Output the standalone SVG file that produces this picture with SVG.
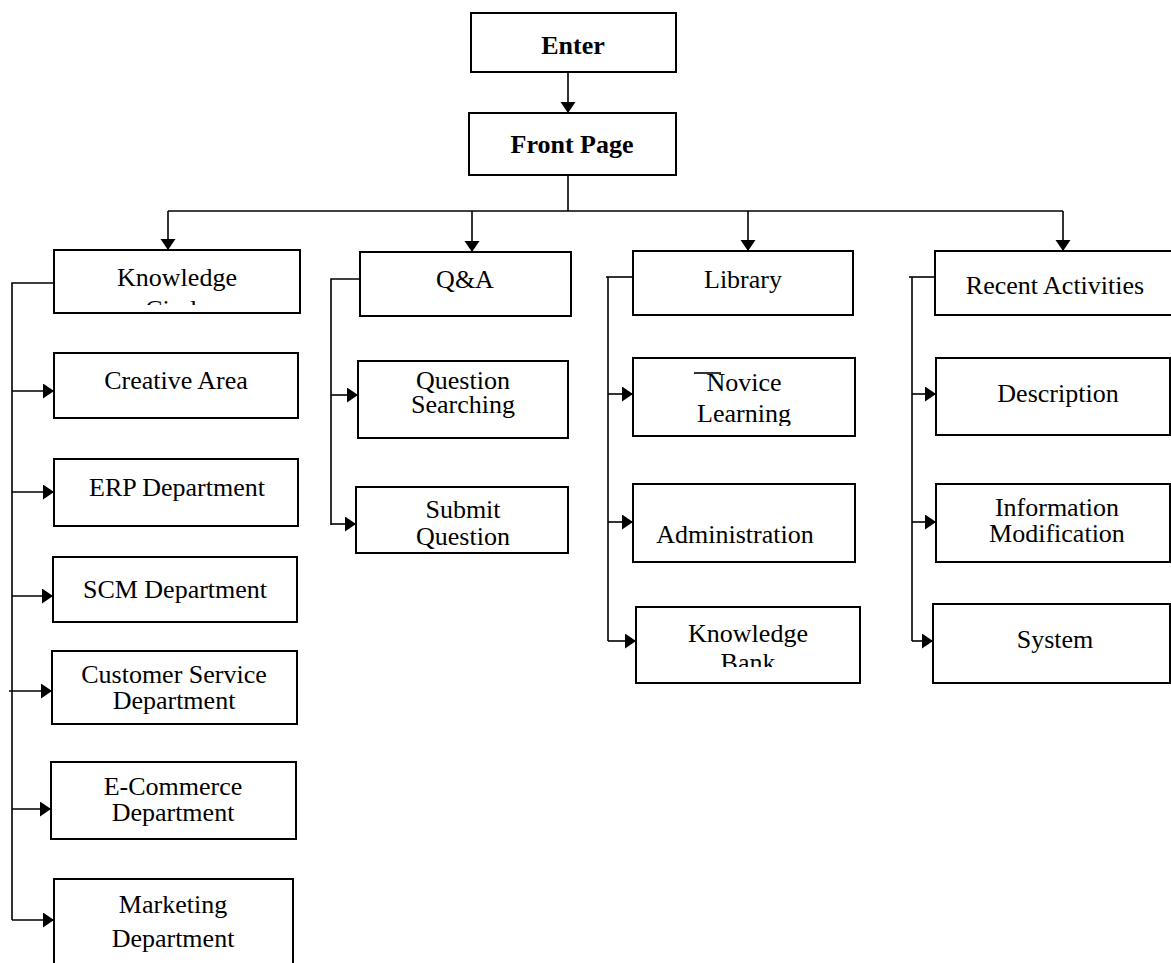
<svg xmlns="http://www.w3.org/2000/svg" width="1171" height="963" viewBox="0 0 1171 963">
<style>
.box{fill:#fff;stroke:#000;stroke-width:2}
.t{font-family:"Liberation Serif","Times New Roman",serif;font-size:26px;fill:#000;text-anchor:middle}
.b{font-weight:bold}
.c{fill:none;stroke:#000;stroke-width:1.6}
</style>
<defs>
<marker id="ah" markerUnits="userSpaceOnUse" markerWidth="12" markerHeight="16" refX="11" refY="7.5" orient="auto">
<path d="M0,0 L11,7.5 L0,15 Z" fill="#000"/>
</marker>
<clipPath id="clipK"><rect x="54" y="250" width="246" height="55"/></clipPath>
<clipPath id="clipB"><rect x="636" y="607" width="224" height="60"/></clipPath>
<clipPath id="clipN"><rect x="633" y="358" width="222" height="68"/></clipPath>
</defs>
<g id="connectors">
<line class="c" x1="568" y1="72" x2="568" y2="113" marker-end="url(#ah)"/>
<line class="c" x1="568" y1="175" x2="568" y2="211"/>
<line class="c" x1="168" y1="211" x2="1063" y2="211"/>
<line class="c" x1="168" y1="211" x2="168" y2="250" marker-end="url(#ah)"/>
<line class="c" x1="472" y1="211" x2="472" y2="252" marker-end="url(#ah)"/>
<line class="c" x1="748" y1="211" x2="748" y2="251" marker-end="url(#ah)"/>
<line class="c" x1="1063" y1="211" x2="1063" y2="251" marker-end="url(#ah)"/>
<polyline class="c" points="54,283 12,283 12,920"/>
<line class="c" x1="12" y1="391" x2="54" y2="391" marker-end="url(#ah)"/>
<line class="c" x1="12" y1="492" x2="54" y2="492" marker-end="url(#ah)"/>
<line class="c" x1="12" y1="596" x2="53" y2="596" marker-end="url(#ah)"/>
<line class="c" x1="9" y1="691" x2="52" y2="691" marker-end="url(#ah)"/>
<line class="c" x1="12" y1="809" x2="51" y2="809" marker-end="url(#ah)"/>
<line class="c" x1="12" y1="920" x2="54" y2="920" marker-end="url(#ah)"/>
<polyline class="c" points="360,279 331,279 331,525"/>
<line class="c" x1="331" y1="395" x2="358" y2="395" marker-end="url(#ah)"/>
<line class="c" x1="331" y1="524" x2="356" y2="524" marker-end="url(#ah)"/>
<polyline class="c" points="633,277 606,277"/>
<line class="c" x1="608" y1="277" x2="608" y2="641"/>
<line class="c" x1="608" y1="394" x2="633" y2="394" marker-end="url(#ah)"/>
<line class="c" x1="608" y1="522" x2="633" y2="522" marker-end="url(#ah)"/>
<line class="c" x1="608" y1="641" x2="636" y2="641" marker-end="url(#ah)"/>
<polyline class="c" points="935,277 909,277"/>
<line class="c" x1="912" y1="277" x2="912" y2="641"/>
<line class="c" x1="912" y1="394" x2="936" y2="394" marker-end="url(#ah)"/>
<line class="c" x1="912" y1="522" x2="936" y2="522" marker-end="url(#ah)"/>
<line class="c" x1="912" y1="641" x2="933" y2="641" marker-end="url(#ah)"/>
</g>
<g id="enter"><rect class="box" x="471" y="13" width="205" height="59"/><text class="t b" x="573" y="54">Enter</text></g>
<g id="front-page"><rect class="box" x="469" y="113" width="207" height="62"/><text class="t b" x="572" y="153">Front Page</text></g>
<g id="knowledge"><rect class="box" x="54" y="250" width="246" height="63"/><text class="t" x="177" y="286">Knowledge</text><text class="t" x="177" y="318" clip-path="url(#clipK)">Circle</text></g>
<g id="creative-area"><rect class="box" x="54" y="353" width="244" height="65"/><text class="t" x="176" y="389">Creative Area</text></g>
<g id="erp"><rect class="box" x="54" y="459" width="244" height="67"/><text class="t" x="177" y="496">ERP Department</text></g>
<g id="scm"><rect class="box" x="53" y="557" width="244" height="65"/><text class="t" x="175" y="598">SCM Department</text></g>
<g id="customer-service"><rect class="box" x="52" y="651" width="245" height="73"/><text class="t" x="174" y="683">Customer Service</text><text class="t" x="174" y="709">Department</text></g>
<g id="e-commerce"><rect class="box" x="51" y="762" width="245" height="77"/><text class="t" x="173" y="795">E-Commerce</text><text class="t" x="173" y="821">Department</text></g>
<g id="marketing"><rect class="box" x="54" y="879" width="239" height="100"/><text class="t" x="173" y="913">Marketing</text><text class="t" x="173" y="947">Department</text></g>
<g id="qa"><rect class="box" x="360" y="252" width="211" height="64"/><text class="t" x="465" y="288">Q&amp;A</text></g>
<g id="question-searching"><rect class="box" x="358" y="361" width="210" height="77"/><text class="t" x="463" y="389">Question</text><text class="t" x="463" y="413">Searching</text></g>
<g id="submit-question"><rect class="box" x="356" y="487" width="212" height="66"/><text class="t" x="463" y="518">Submit</text><text class="t" x="463" y="545">Question</text></g>
<g id="library"><rect class="box" x="633" y="251" width="220" height="64"/><text class="t" x="743" y="288">Library</text></g>
<g id="novice-learning"><rect class="box" x="633" y="358" width="222" height="78"/><line class="c" x1="694" y1="373" x2="721" y2="373"/><text class="t" x="744" y="391">Novice</text><text class="t" x="744" y="422" clip-path="url(#clipN)">Learning</text></g>
<g id="administration"><rect class="box" x="633" y="484" width="222" height="78"/><text class="t" x="735" y="543">Administration</text></g>
<g id="knowledge-bank"><rect class="box" x="636" y="607" width="224" height="76"/><text class="t" x="748" y="642">Knowledge</text><text class="t" x="748" y="671" clip-path="url(#clipB)">Bank</text></g>
<g id="recent-activities"><rect class="box" x="935" y="251" width="240" height="64"/><text class="t" x="1055" y="294">Recent Activities</text></g>
<g id="description"><rect class="box" x="936" y="358" width="234" height="77"/><text class="t" x="1058" y="402">Description</text></g>
<g id="information-modification"><rect class="box" x="936" y="484" width="234" height="78"/><text class="t" x="1057" y="516">Information</text><text class="t" x="1057" y="542">Modification</text></g>
<g id="system"><rect class="box" x="933" y="604" width="237" height="79"/><text class="t" x="1055" y="648">System</text></g>
</svg>
